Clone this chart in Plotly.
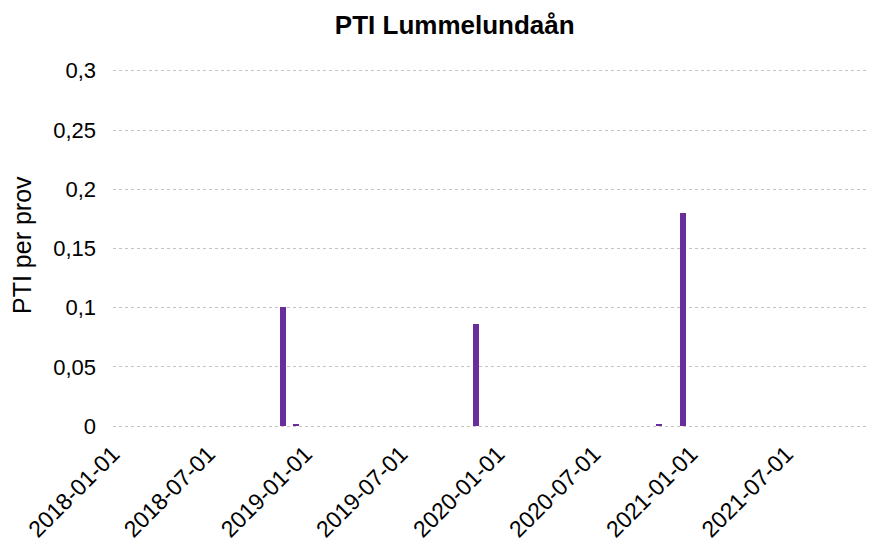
import plotly.graph_objects as go

dates = ["2018-11-19", "2018-12-14", "2019-11-21", "2020-11-02", "2020-12-17"]
pti = [0.101, 0.002, 0.086, 0.002, 0.18]

y_ticks = [0, 0.05, 0.1, 0.15, 0.2, 0.25, 0.3]
y_labels = ["0", "0,05", "0,1", "0,15", "0,2", "0,25", "0,3"]
x_ticks = ["2018-01-01", "2018-07-01", "2019-01-01", "2019-07-01",
           "2020-01-01", "2020-07-01", "2021-01-01", "2021-07-01"]

fig = go.Figure()
fig.add_trace(go.Bar(
    x=dates, y=pti,
    width=[11 * 24 * 3600 * 1000] * len(dates),
    marker=dict(color="#6B2C9C", line=dict(width=0)),
))

# page body has an 8px default margin; margins compensate for it
fig.update_layout(
    width=876, height=544,
    paper_bgcolor="white", plot_bgcolor="white",
    margin=dict(l=105, r=8, t=61, b=124),
    font=dict(family="Liberation Sans, Arial, sans-serif", size=22, color="black"),
    title=dict(text="<b>PTI Lummelundaån</b>", x=0.510, xanchor="center",
               y=1 - 17 / 544, yanchor="middle", font=dict(size=26)),
    showlegend=False,
    bargap=0,
)
fig.add_annotation(
    text="PTI per prov", textangle=-90,
    xref="paper", yref="paper",
    x=(14 - 105) / 763, y=(420 - 237) / 359,
    xanchor="center", yanchor="middle", showarrow=False,
    font=dict(size=25),
)
fig.update_xaxes(
    type="date", automargin=False,
    range=["2018-01-01", "2021-12-18"],
    tickvals=x_ticks, ticktext=x_ticks, tickangle=-45,
    showgrid=False, showline=False, zeroline=False, ticks="",
    ticklabelstandoff=7,
    tickfont=dict(size=23),
)
fig.update_yaxes(
    automargin=False,
    range=[-0.0015, 0.3015],
    tickvals=y_ticks, ticktext=y_labels,
    showgrid=True, gridcolor="#C4C4C4", griddash="dot", gridwidth=1,
    zeroline=False, showline=False, ticks="",
    ticklabelstandoff=16,
    tickfont=dict(size=22),
)

fig.write_html("out.html")
